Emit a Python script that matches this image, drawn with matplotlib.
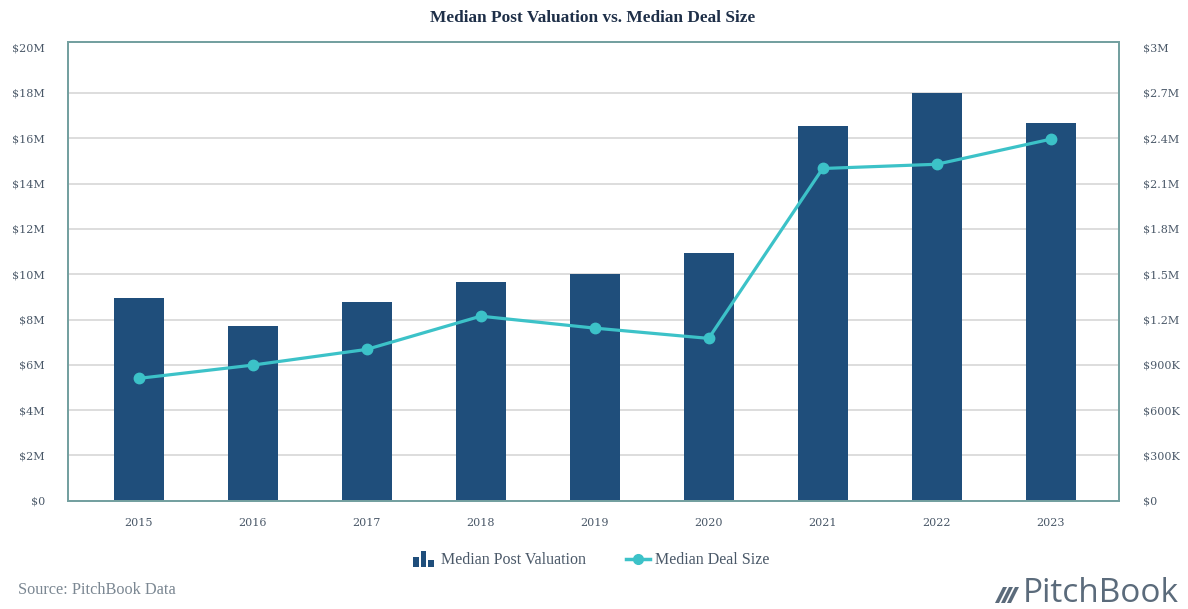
import matplotlib
matplotlib.use("Agg")
import matplotlib.pyplot as plt
from matplotlib.legend_handler import HandlerBase
from matplotlib.lines import Line2D
from matplotlib.patches import Rectangle, Polygon
import numpy as np

years = ["2015", "2016", "2017", "2018", "2019", "2020", "2021", "2022", "2023"]
post_valuation_m = [8.94, 7.71, 8.79, 9.66, 10.01, 10.95, 16.54, 17.99, 16.69]
deal_size_m = [0.81, 0.898, 1.002, 1.222, 1.143, 1.075, 2.20, 2.228, 2.394]
left_ticks = [0, 2, 4, 6, 8, 10, 12, 14, 16, 18, 20]
right_ticks = [0, 0.3, 0.6, 0.9, 1.2, 1.5, 1.8, 2.1, 2.4, 2.7, 3.0]

BAR = "#1F4E7B"
TEAL = "#3CC2C8"
GRID = "#DADADA"
FRAME = "#74A0A0"
TXT = "#4A5868"
TITLE = "#1E2F48"
SERIF = ["Liberation Serif", "DejaVu Serif"]
TICKFONT = ["DejaVu Serif"]

plt.rcParams["font.family"] = SERIF


def fmt_left(v):
    return "$0" if v == 0 else f"${v:g}M"


def fmt_right(v):
    if v == 0:
        return "$0"
    if v < 1:
        return f"${v * 1000:.0f}K"
    return f"${v:g}M"


class BarIcon:
    pass


class BarIconHandler(HandlerBase):
    # small three-bar glyph like the one in the original legend
    def create_artists(self, legend, orig_handle, xdescent, ydescent,
                       width, height, fontsize, trans):
        arts = []
        bw = width * 0.24
        gap = width * 0.07
        x0 = -xdescent + width * 0.08
        for i, h in enumerate([0.6, 1.0, 0.4]):
            r = Rectangle((x0 + i * (bw + gap), -ydescent - height * 0.2),
                          bw, height * 1.35 * h, facecolor=BAR,
                          edgecolor="none", transform=trans)
            arts.append(r)
        return arts


fig = plt.figure(figsize=(11.88, 6.09), dpi=100)
ax = fig.add_axes([0.0572, 0.1778, 0.8848, 0.7532])
ax2 = ax.twinx()

x = np.arange(len(years))
ax.bar(x, post_valuation_m, width=0.44, color=BAR, zorder=2)
ax.set_ylim(0, 20.25)
ax.set_xlim(-0.62, 8.6)
ax.set_yticks(left_ticks)
ax.set_yticklabels([fmt_left(v) for v in left_ticks])
ax.set_xticks(x)
ax.set_xticklabels(years)
for t in left_ticks[1:-1]:
    ax.axhline(t, color=GRID, linewidth=1.3, zorder=1)
ax.tick_params(axis="both", length=0, labelsize=8, colors=TXT)
ax.tick_params(axis="y", pad=16.5)
ax.tick_params(axis="x", pad=12.5)

ax2.plot(x, deal_size_m, color=TEAL, linewidth=2.3, marker="o",
         markersize=7.5, zorder=3)
ax2.set_ylim(0, 3.0375)
ax2.set_yticks(right_ticks)
ax2.set_yticklabels([fmt_right(v) for v in right_ticks])
ax2.tick_params(axis="y", length=0, labelsize=8, colors=TXT, pad=17)

for lbl in ax.get_xticklabels() + ax.get_yticklabels() + ax2.get_yticklabels():
    lbl.set_family(TICKFONT)

for a in (ax, ax2):
    for s in a.spines.values():
        s.set_color(FRAME)
        s.set_linewidth(1.4)

fig.text(0.4985, 0.971, "Median Post Valuation vs. Median Deal Size",
         ha="center", va="center", fontsize=12.4, fontweight="bold",
         color=TITLE)

handles = [BarIcon(), Line2D([], [], color=TEAL, linewidth=2.5, marker="o",
                             markersize=7)]
fig.legend(handles, ["Median Post Valuation", "Median Deal Size"],
           handler_map={BarIcon: BarIconHandler()},
           loc="center", bbox_to_anchor=(0.497, 0.08), ncol=2, frameon=False,
           fontsize=11.5, handlelength=1.5, handletextpad=0.35,
           columnspacing=2.5, labelcolor=TXT)

fig.text(0.015, 0.031, "Source: PitchBook Data", ha="left", va="center",
         fontsize=11.7, color="#7B8792")

fig.text(0.992, 0.012, "PitchBook", ha="right", va="baseline",
         fontsize=24, color="#5B6B7B", family=["Open Sans", "DejaVu Sans"])
W, H = 1188, 609
for dx in (0, 6, 12):
    pts = [(995 + dx, 603), (1003 + dx, 587), (1007 + dx, 587), (999 + dx, 603)]
    fig.patches.append(Polygon([(px / W, 1 - py / H) for px, py in pts],
                               closed=True, transform=fig.transFigure,
                               facecolor="#5B6B7B", edgecolor="none"))

fig.savefig("out.png", dpi=100, facecolor="white")
